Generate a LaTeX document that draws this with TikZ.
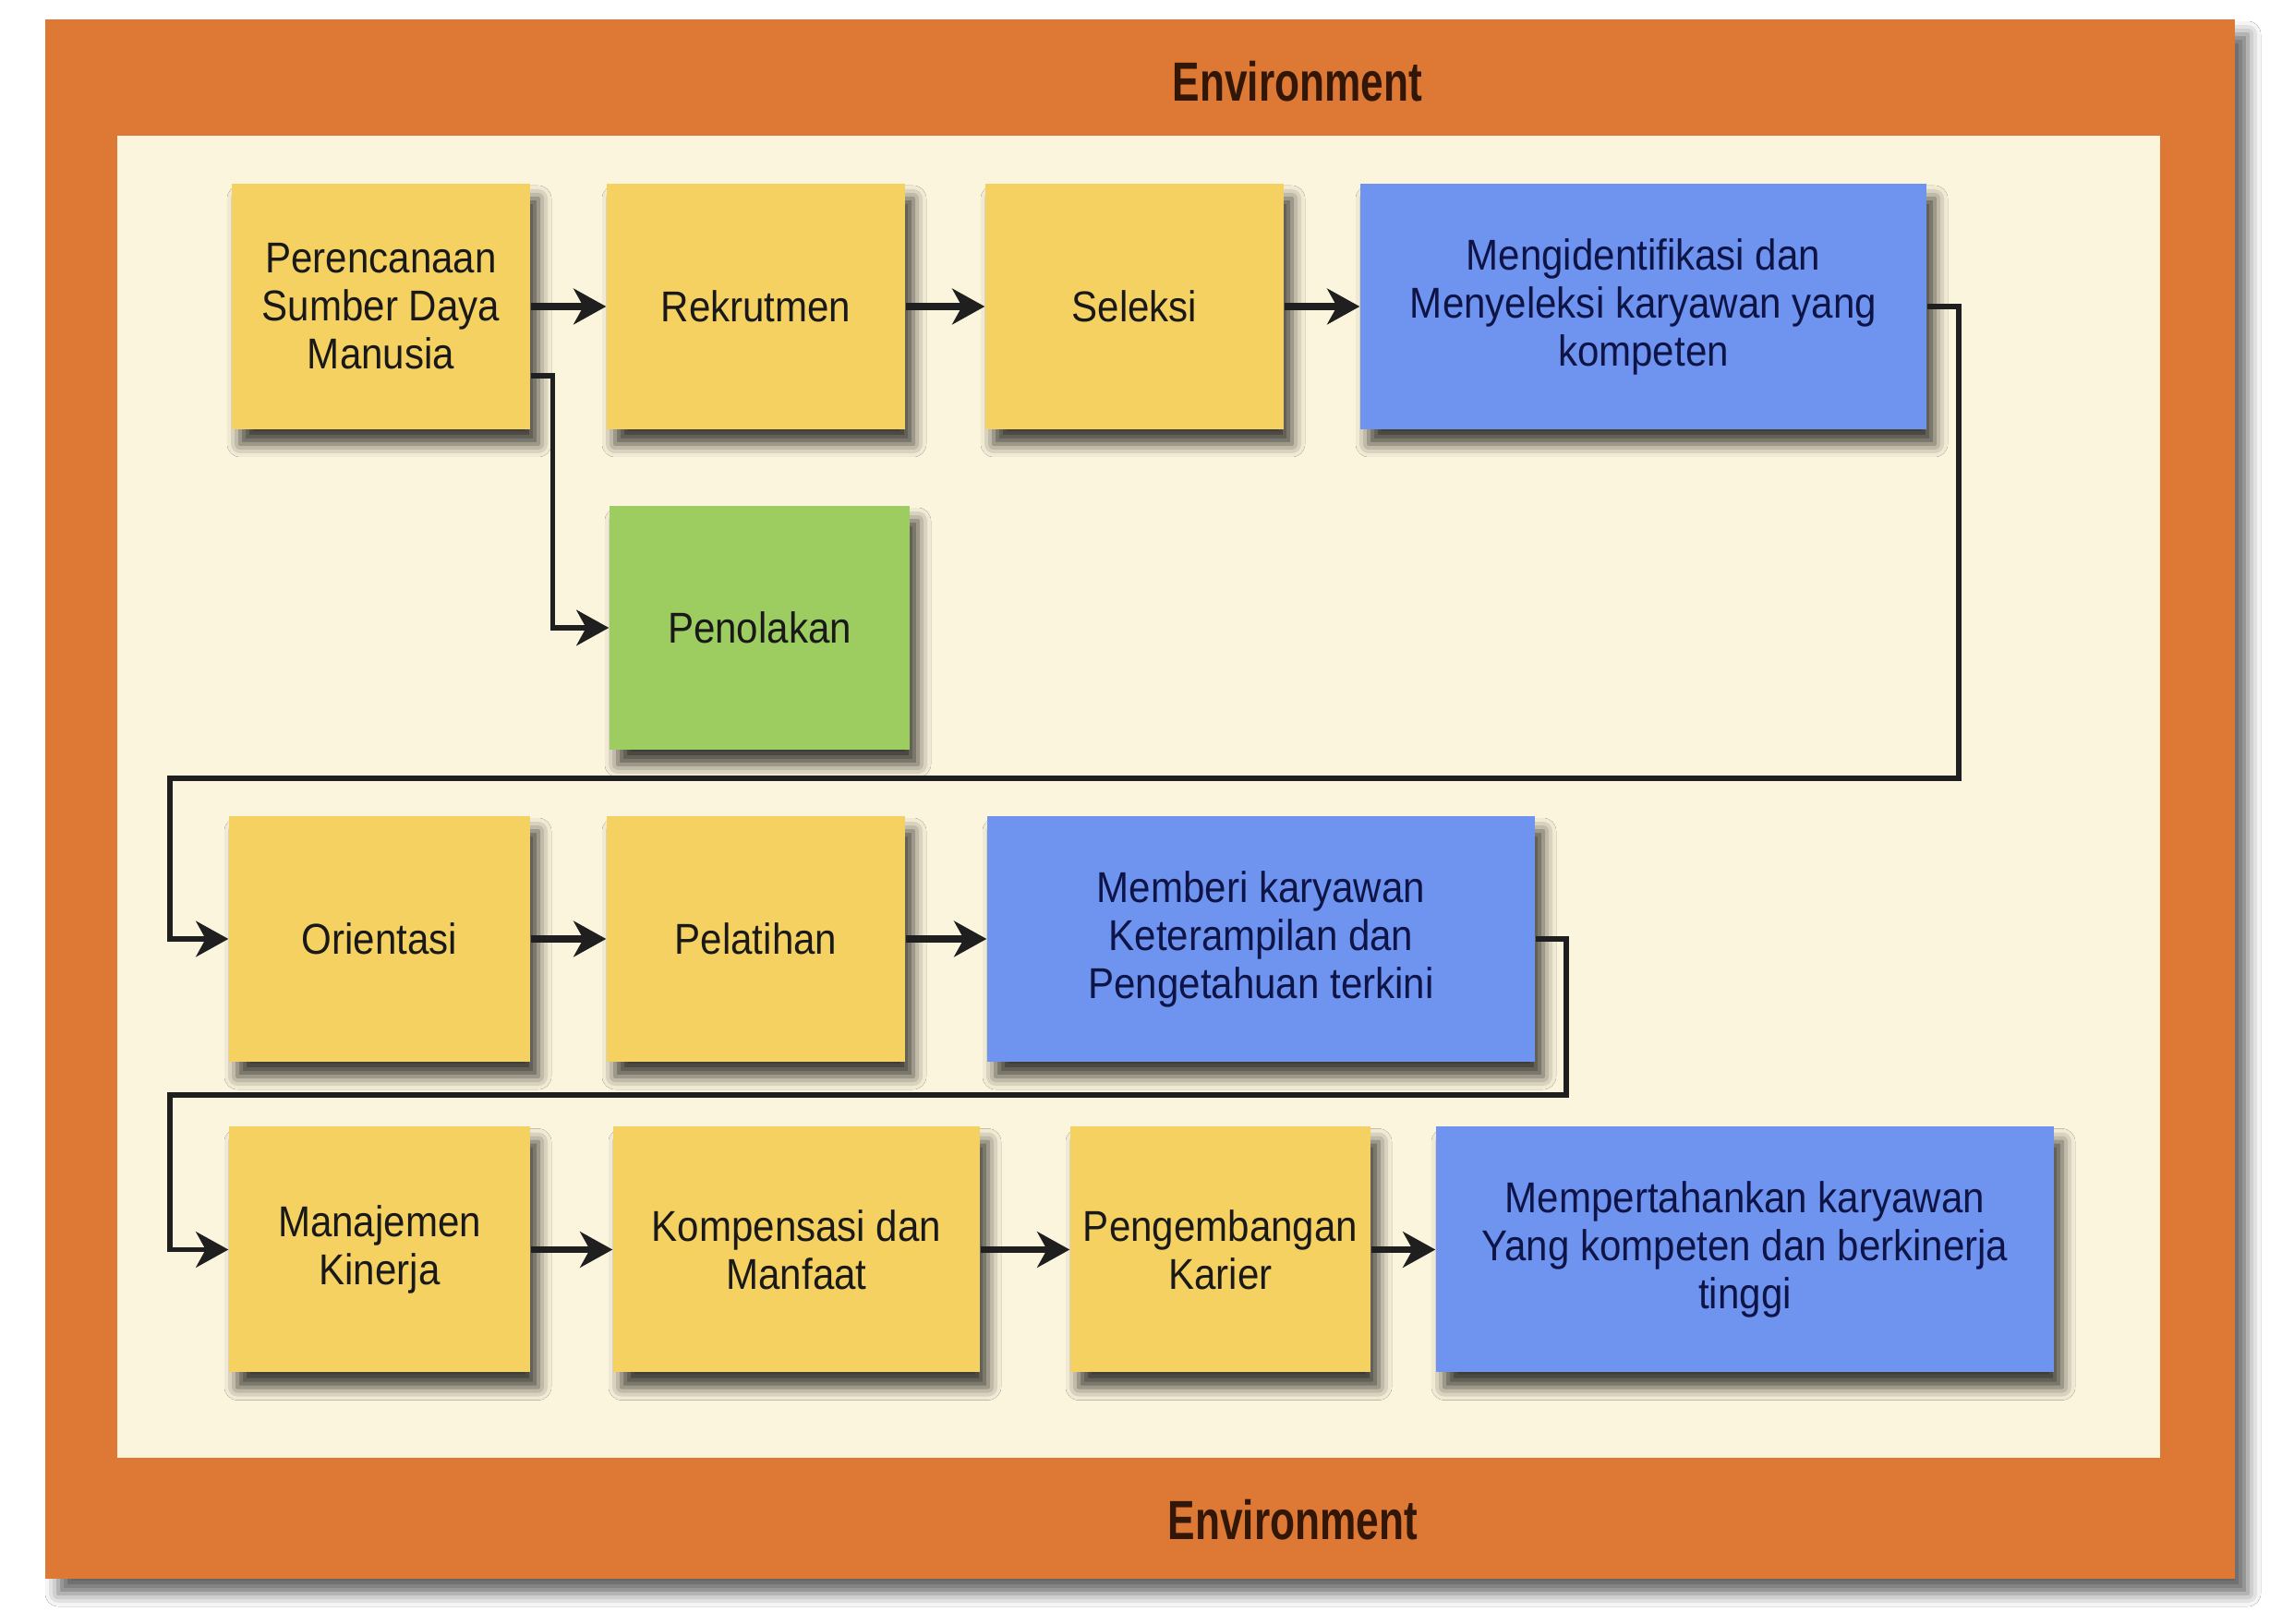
\documentclass[tikz,border=0pt]{standalone}
\usepackage{fontspec}
\setmainfont{Liberation Sans}
\newfontfamily\boxfont{Liberation Sans}[FakeStretch=0.9]
\newfontfamily\envfont{Liberation Sans Bold}[FakeStretch=0.74]
\usetikzlibrary{arrows.meta,shadows.blur}

\definecolor{envorange}{RGB}{221,121,52}
\definecolor{envcream}{RGB}{252,245,222}
\definecolor{stepyellow}{RGB}{245,209,98}
\definecolor{stepblue}{RGB}{110,148,240}
\definecolor{stepgreen}{RGB}{157,204,97}
\definecolor{bluetext}{RGB}{14,20,70}
\definecolor{envtext}{RGB}{50,22,8}

\tikzset{
  stepbox/.style={minimum width=#1, minimum height=2.66cm, inner sep=0pt,
    align=center, text=black!90,
    font=\boxfont\fontsize{13.3}{14.8}\selectfont,
    blur shadow={shadow xshift=0.09cm, shadow yshift=-0.16cm,
      shadow blur radius=0.14cm, shadow opacity=75}},
  yellowbox/.style={stepbox=#1, fill=stepyellow},
  bluebox/.style={stepbox=#1, fill=stepblue, text=bluetext},
  greenbox/.style={stepbox=#1, fill=stepgreen},
  arr/.style={line width=2.2pt, draw=black!88,
    -{Stealth[length=10pt, width=11pt, inset=3pt]}},
  link/.style={arr, line width=1.5pt},
  envlabel/.style={font=\envfont\fontsize{17}{20}\selectfont, text=envtext}
}

\begin{document}
\begin{tikzpicture}
  \useasboundingbox (0, 0) rectangle (24.84, -17.59);
  \fill[white] (0, 0) rectangle (24.84, -17.59);
  % frame
  \fill[envorange, blur shadow={shadow xshift=0.14cm,
    shadow yshift=-0.16cm, shadow blur radius=0.14cm,
    shadow opacity=60}]
    (0.49, -0.21) rectangle (24.20, -17.10);
  \fill[envcream] (1.27, -1.47) rectangle (23.39, -15.79);
  \node[envlabel] (envtop) at (14.05, -0.88) {Environment};
  \node[envlabel] (envbot) at (14.00, -16.46) {Environment};

  % row 1
  \node[yellowbox=3.23cm] (plan) at (4.125, -3.32)
    {Perencanaan\\Sumber Daya\\Manusia};
  \node[yellowbox=3.23cm] (recruit) at (8.185, -3.32) {Rekrutmen};
  \node[yellowbox=3.23cm] (select) at (12.285, -3.32) {Seleksi};
  \node[bluebox=6.13cm] (ident) at (17.795, -3.32)
    {Mengidentifikasi dan\\Menyeleksi karyawan yang\\kompeten};
  \node[greenbox=3.25cm, minimum height=2.64cm] (reject)
    at (8.225, -6.80) {Penolakan};

  % row 2
  \node[yellowbox=3.26cm] (orient) at (4.11, -10.17) {Orientasi};
  \node[yellowbox=3.23cm] (train) at (8.185, -10.17) {Pelatihan};
  \node[bluebox=5.93cm] (skill) at (13.655, -10.17)
    {Memberi karyawan\\Keterampilan dan\\Pengetahuan terkini};

  % row 3
  \node[yellowbox=3.26cm] (perf) at (4.11, -13.535)
    {Manajemen\\Kinerja};
  \node[yellowbox=3.97cm] (comp) at (8.625, -13.535)
    {Kompensasi dan\\Manfaat};
  \node[yellowbox=3.25cm] (career) at (13.215, -13.535)
    {Pengembangan\\Karier};
  \node[bluebox=6.69cm] (retain) at (18.895, -13.535)
    {Mempertahankan karyawan\\Yang kompeten dan berkinerja\\tinggi};

  % arrows
  \draw[arr] (plan) -- (recruit);
  \draw[arr] (recruit) -- (select);
  \draw[arr] (select) -- (ident);
  \draw[link] ([yshift=-0.75cm]plan.east) -- ++(0.24, 0) |- (reject.west);
  \coordinate (r1) at (21.21, -8.43);
  \coordinate (l1) at (1.84, -8.43);
  \draw[link] (ident.east) -| (r1) -- (l1) |- (orient.west);
  \draw[arr] (orient) -- (train);
  \draw[arr] (train) -- (skill);
  \coordinate (r2) at (16.96, -11.86);
  \coordinate (l2) at (1.84, -11.86);
  \draw[link] (skill.east) -| (r2) -- (l2) |- (perf.west);
  \draw[arr] (perf) -- (comp);
  \draw[arr] (comp) -- (career);
  \draw[arr] (career) -- (retain);
\end{tikzpicture}
\end{document}
